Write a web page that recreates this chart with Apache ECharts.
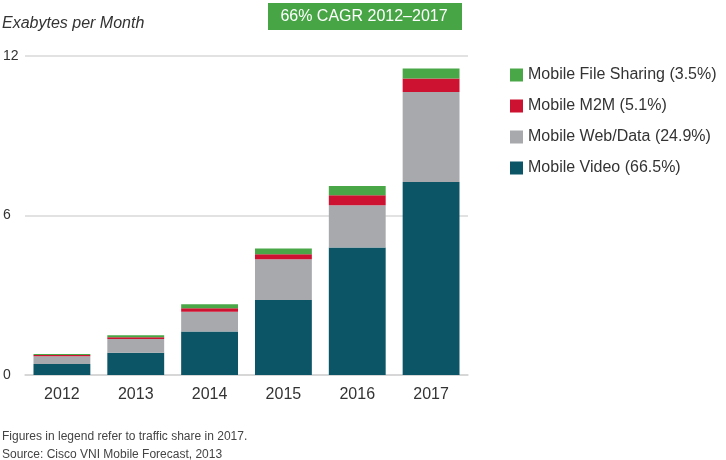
<!DOCTYPE html>
<html>
<head>
<meta charset="utf-8">
<script src="https://cdn.jsdelivr.net/npm/echarts@6/dist/echarts.min.js"></script>
<style>
  html, body { margin: 0; padding: 0; background: #fff; }
  #main { width: 726px; height: 460px; }
</style>
</head>
<body>
<div id="main"></div>
<script>
// 数据
const years = ['2012', '2013', '2014', '2015', '2016', '2017'];
const videoData = [0.41, 0.84, 1.64, 2.82, 4.80, 7.26];
const webData = [0.30, 0.51, 0.74, 1.53, 1.59, 3.39];
const m2mData = [0.04, 0.07, 0.13, 0.19, 0.37, 0.50];
const fileData = [0.04, 0.08, 0.15, 0.22, 0.35, 0.38];
const seriesNames = ['Mobile Video (66.5%)', 'Mobile Web/Data (24.9%)', 'Mobile M2M (5.1%)', 'Mobile File Sharing (3.5%)'];
const yTicks = [0, 6, 12];

const font = 'Helvetica, "Liberation Sans", Arial, sans-serif';
const myChart = echarts.init(document.getElementById('main'));

const option = {
  animation: false,
  color: ['#0c5567', '#a7a9ac', '#cc1131', '#4aa748'],
  textStyle: { fontFamily: font },
  title: [
    {
      text: 'Exabytes per Month',
      left: 2, top: 16, padding: 0,
      textStyle: { fontSize: 16, fontStyle: 'italic', fontWeight: 'normal', color: '#333', fontFamily: font }
    },
    {
      text: 'Figures in legend refer to traffic share in 2017.',
      left: 2, top: 431, padding: 0,
      textStyle: { fontSize: 12, fontWeight: 'normal', color: '#444', fontFamily: font }
    },
    {
      text: 'Source: Cisco VNI Mobile Forecast, 2013',
      left: 2, top: 449, padding: 0,
      textStyle: { fontSize: 12, fontWeight: 'normal', color: '#444', fontFamily: font }
    }
  ],
  graphic: [
    {
      type: 'rect',
      shape: { x: 268, y: 3, width: 194, height: 27 },
      style: { fill: '#47a546' }
    },
    {
      type: 'text',
      x: 364, y: 17,
      style: {
        text: '66% CAGR 2012\u20132017',
        fill: '#fff', fontSize: 16, fontFamily: font,
        align: 'center', verticalAlign: 'middle'
      }
    }
  ],
  legend: {
    orient: 'vertical',
    left: 510, top: 67, padding: 0,
    itemWidth: 13, itemHeight: 13, itemGap: 15,
    icon: 'rect',
    data: [seriesNames[3], seriesNames[2], seriesNames[1], seriesNames[0]],
    textStyle: { fontSize: 16, color: '#333', fontFamily: font }
  },
  grid: { left: 24, right: 258, top: 56, bottom: 85 },
  xAxis: {
    type: 'category',
    data: years,
    axisTick: { show: false },
    axisLine: { lineStyle: { color: '#d4d4d4', width: 1.5 } },
    axisLabel: { color: '#333', fontSize: 16, margin: 12, fontFamily: font }
  },
  yAxis: {
    type: 'value',
    min: yTicks[0], max: yTicks[2], interval: yTicks[1] - yTicks[0],
    axisLine: { show: false },
    axisTick: { show: false },
    splitLine: { lineStyle: { color: '#d8d8d8', width: 1.5 } },
    axisLabel: { color: '#333', fontSize: 14, align: 'left', margin: 22, fontFamily: font }
  },
  series: [
    { name: seriesNames[0], type: 'bar', stack: 'total', data: videoData, barCategoryGap: '23%' },
    { name: seriesNames[1], type: 'bar', stack: 'total', data: webData },
    { name: seriesNames[2], type: 'bar', stack: 'total', data: m2mData },
    { name: seriesNames[3], type: 'bar', stack: 'total', data: fileData }
  ]
};

myChart.setOption(option);
</script>
</body>
</html>
